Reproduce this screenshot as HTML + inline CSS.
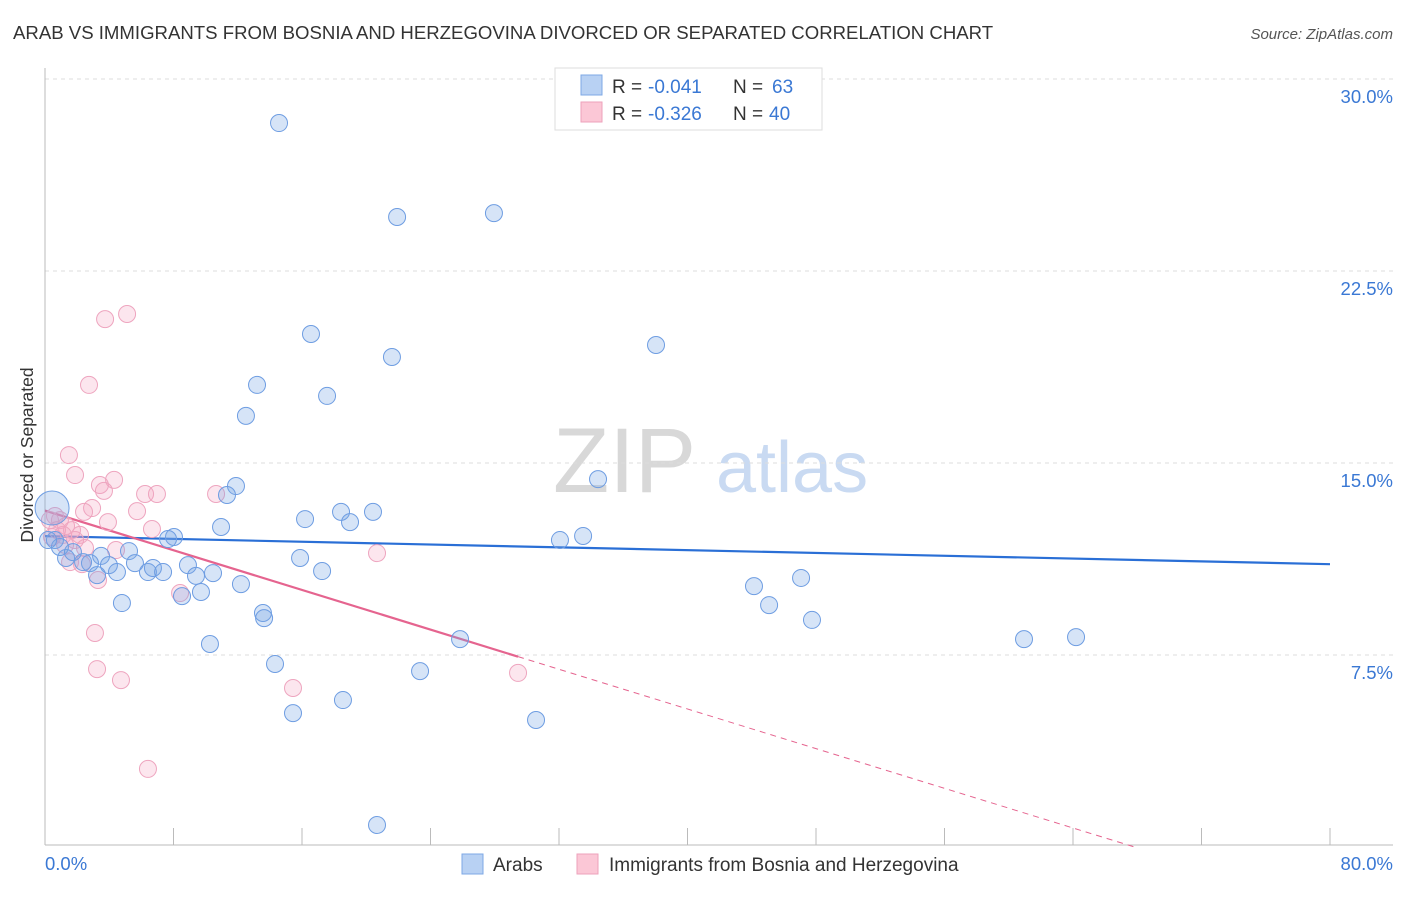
<!DOCTYPE html>
<html><head><meta charset="utf-8"><style>
body{margin:0;background:#fff;font-family:"Liberation Sans",sans-serif;}
svg text{font-family:"Liberation Sans",sans-serif;}
</style></head><body>
<svg id="chart" width="1406" height="892" viewBox="0 0 1406 892" xmlns="http://www.w3.org/2000/svg">
<text x="13" y="39" font-size="18.6" fill="#333">ARAB VS IMMIGRANTS FROM BOSNIA AND HERZEGOVINA DIVORCED OR SEPARATED CORRELATION CHART</text>
<text x="1393" y="39" font-size="15" fill="#555" font-style="italic" text-anchor="end">Source: ZipAtlas.com</text>
<g>
<text x="553" y="492" font-size="92" font-family="Liberation Serif, serif" fill="#d8d8d8">ZIP</text>
<text x="716" y="492" font-size="72" fill="#c9daf2">atlas</text>
</g>
<g id="grid"></g>
<g id="axes"></g>
<text transform="translate(33,455) rotate(-90)" font-size="17.5" fill="#333" text-anchor="middle">Divorced or Separated</text>
<g id="trends"></g>
<g id="points"></g>
<g>
<rect x="555" y="68" width="267" height="62" fill="#fff" stroke="#ddd"/>
<rect x="581" y="75" width="21" height="20" fill="#b8d1f3" stroke="#7ea8e6"/>
<rect x="581" y="102" width="21" height="20" fill="#fbc7d6" stroke="#eea2bb"/>
<text x="612" y="93" font-size="19" fill="#333">R =</text>
<text x="648" y="93" font-size="19" fill="#3a78d4">-0.041</text>
<text x="733" y="93" font-size="19" fill="#333">N =</text>
<text x="772" y="93" font-size="19" fill="#3a78d4">63</text>
<text x="612" y="120" font-size="19" fill="#333">R =</text>
<text x="648" y="120" font-size="19" fill="#3a78d4">-0.326</text>
<text x="733" y="120" font-size="19" fill="#333">N =</text>
<text x="769" y="120" font-size="19" fill="#3a78d4">40</text>
</g>
<g>
<rect x="462" y="854" width="21" height="20" fill="#b8d1f3" stroke="#7ea8e6"/>
<text x="493" y="871" font-size="19" fill="#333">Arabs</text>
<rect x="577" y="854" width="21" height="20" fill="#fbc7d6" stroke="#eea2bb"/>
<text x="609" y="871" font-size="19" fill="#333">Immigrants from Bosnia and Herzegovina</text>
</g>
</svg>
<script>
const blueX=[14.57,21.92,27.95,16.56,21.60,38.04,13.20,17.56,12.51,11.89,11.33,34.43,18.43,20.42,16.19,18.99,10.96,8.03,7.66,32.06,33.50,15.88,5.23,3.49,1.31,2.80,2.37,3.98,5.60,6.41,6.72,4.48,7.35,8.90,9.40,10.46,3.24,17.25,12.20,44.14,47.07,4.79,8.53,9.71,13.57,13.64,45.08,47.75,10.27,25.84,60.95,64.19,14.32,23.35,18.55,15.44,30.57,20.67,0.44,0.62,0.93,1.74,0.19];
const blueY=[28.28,24.61,24.76,20.04,19.14,19.61,18.05,17.62,16.84,14.10,13.75,14.37,13.09,13.09,12.81,12.69,12.50,12.11,12.03,11.99,12.15,11.29,11.56,11.37,11.29,11.09,11.13,11.01,11.09,10.74,10.90,10.74,10.74,11.01,10.59,10.70,10.62,10.78,10.27,10.19,10.51,9.53,9.80,9.96,9.14,8.94,9.45,8.87,7.93,8.12,8.12,8.20,7.15,6.87,5.74,5.23,4.96,0.86,13.24,11.99,11.72,11.52,11.99];
const pinkX=[3.74,5.11,2.74,1.49,1.87,3.42,4.30,3.67,6.23,6.97,10.65,2.93,5.73,2.43,3.92,0.62,0.93,6.66,1.31,1.68,2.18,1.12,1.87,4.42,20.67,1.56,2.30,3.30,8.41,3.11,3.24,4.73,15.44,29.45,6.41,0.31,0.75,0.44,1.25,2.49];
const pinkY=[20.62,20.82,18.05,15.31,14.53,14.14,14.34,13.91,13.79,13.79,13.79,13.24,13.12,13.09,12.69,12.93,12.77,12.42,12.54,12.38,12.19,12.19,11.99,11.60,11.48,11.13,11.05,10.43,9.92,8.36,6.95,6.52,6.21,6.80,3.05,12.77,12.38,12.11,11.80,11.68];
const yTicks=[7.5,15,22.5,30];
const yTickLabels=["7.5%","15.0%","22.5%","30.0%"];
const xTickVals=[0,8,16,24,32,40,48,56,64,72,80];
const NS="http://www.w3.org/2000/svg";
const X0=45,X1=1330,Y0=847,PXPER=192/7.5;
function sx(v){return X0+(v/80)*(X1-X0);}
function sy(v){return Y0-v*PXPER;}
function mk(tag,attrs,parent){const e=document.createElementNS(NS,tag);for(const k in attrs)e.setAttribute(k,attrs[k]);parent.appendChild(e);return e;}
const grid=document.getElementById('grid'),axes=document.getElementById('axes');
yTicks.forEach((t,i)=>{
 const g=mk('line',{x1:45,x2:1393,y1:sy(t),y2:sy(t),stroke:'#ddd','stroke-dasharray':'4,4'},grid);
 
 
 const l=mk('text',{x:1393,y:sy(t)+24,'font-size':18.5,fill:'#3a78d4','text-anchor':'end'},axes);
 l.textContent=yTickLabels[i];
 
 
});
const xa=mk('line',{x1:45,x2:1393,y1:845,y2:845,stroke:'#bbb'},axes);


const ya=mk('line',{x1:45,x2:45,y1:68,y2:845,stroke:'#bbb'},axes);


xTickVals.forEach(t=>{const tk=mk('line',{x1:sx(t),x2:sx(t),y1:828,y2:845,stroke:'#bbb'},axes);
 
 });
const xl0=mk('text',{x:45,y:870,'font-size':18.5,fill:'#3a78d4'},axes);xl0.textContent='0.0%';


const xl1=mk('text',{x:1393,y:870,'font-size':18.5,fill:'#3a78d4','text-anchor':'end'},axes);xl1.textContent='80.0%';


const pts=document.getElementById('points');
function drawPts(xs,ys,fill,stroke,name){xs.forEach((x,i)=>{
 const big=(name==='arab-point'&&i===58);
 const c=mk('circle',{cx:sx(x),cy:sy(ys[i]),r:big?17:8.5,fill:fill,stroke:stroke,'stroke-width':1},pts);
 
 
});}
drawPts(pinkX,pinkY,'rgba(245,165,195,0.28)','#eea5bf','bosnia-point');
drawPts(blueX,blueY,'rgba(120,165,230,0.3)','#6e9de2','arab-point');
function reg(xs,ys){const n=xs.length;let mx=0,my=0;for(let i=0;i<n;i++){mx+=xs[i];my+=ys[i];}mx/=n;my/=n;let sxy=0,sxx=0;for(let i=0;i<n;i++){sxy+=(xs[i]-mx)*(ys[i]-my);sxx+=(xs[i]-mx)**2;}const b=sxy/sxx;return [my-b*mx,b];}
const tr=document.getElementById('trends');
const [ba,bb]=reg(blueX,blueY);
const bl=mk('line',{x1:sx(0),y1:sy(ba),x2:sx(80),y2:sy(ba+bb*80),stroke:'#2a6fd6','stroke-width':2.2},tr);


const [pa,pb]=reg(pinkX,pinkY);
const pmax=Math.max(...pinkX);
const pl=mk('line',{x1:sx(0),y1:sy(pa),x2:sx(pmax),y2:sy(pa+pb*pmax),stroke:'#e5648f','stroke-width':2.2},tr);


const xEnd=Math.min(80,-pa/pb);
const pd=mk('line',{x1:sx(pmax),y1:sy(pa+pb*pmax),x2:sx(xEnd),y2:sy(pa+pb*xEnd),stroke:'#e5648f','stroke-width':1,'stroke-dasharray':'6,5'},tr);


</script>
</body></html>
